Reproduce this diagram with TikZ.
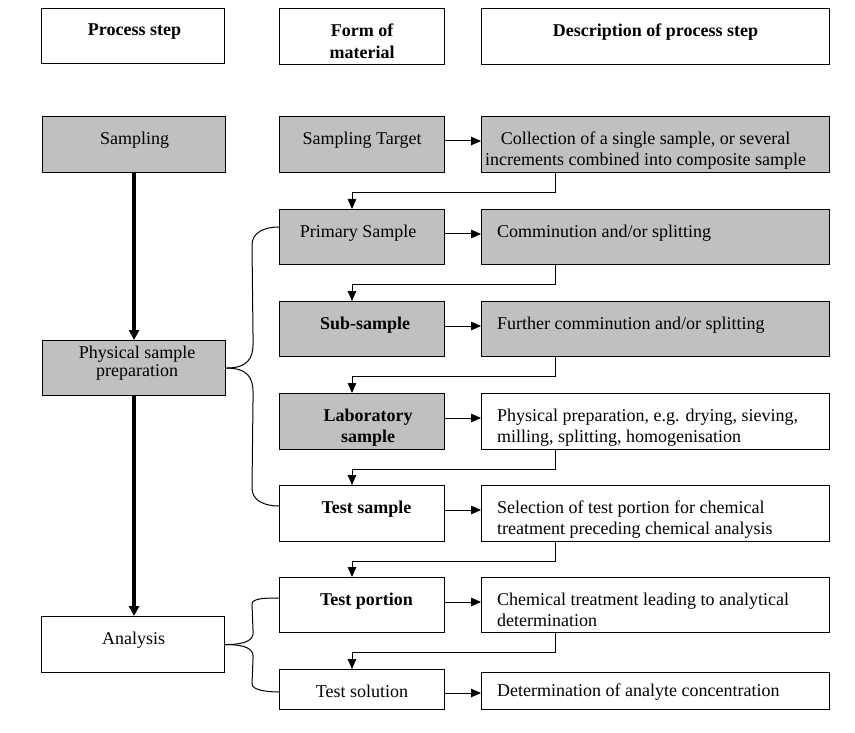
\documentclass[tikz,border=0pt]{standalone}
\usepackage{fontspec}
\setmainfont{Liberation Serif}
\usetikzlibrary{arrows.meta,calc}
\definecolor{boxgray}{HTML}{C0C0C0}
\begin{document}
\begin{tikzpicture}[x=1pt,y=-1pt,
  box/.style={draw,line width=1.1pt,inner sep=0pt,anchor=north west},
  lbl/.style={inner sep=0pt,anchor=north,align=center,font=\fontsize{18}{21.5}\selectfont},
  lbll/.style={inner sep=0pt,anchor=north west,align=left,font=\fontsize{18}{21.5}\selectfont},
  arr/.style={line width=1pt,-{Triangle[length=10pt,width=8.5pt]}},
  bigarr/.style={line width=3.2pt,-{Triangle[length=10pt,width=10pt]}},
  conn/.style={line width=1pt},
]
\useasboundingbox (0,0) rectangle (855,733);
\newcommand{\bx}[6]{\node[box,fill=#6,minimum width={#4pt-#2pt},minimum height={#5pt-#3pt}] (#1) at (#2,#3) {};}
% headers
\bx{h1}{41}{8}{224}{63}{white}
\bx{h2}{279}{8}{444}{64}{white}
\bx{h3}{481}{8}{829}{64}{white}
% left column
\bx{sam}{42}{116}{225}{172}{boxgray}
\bx{pp}{42}{340}{225}{395}{boxgray}
\bx{an}{41}{616}{224}{672}{white}
% middle column
\bx{st}{279}{116}{444}{172}{boxgray}
\bx{ps}{279}{209}{444}{264}{boxgray}
\bx{ss}{279}{301}{444}{356}{boxgray}
\bx{ls}{279}{393}{444}{449}{boxgray}
\bx{ts}{279}{485}{444}{541}{white}
\bx{tp}{279}{577}{444}{632}{white}
\bx{tsol}{279}{669}{444}{709}{white}
% right column
\bx{d1}{481}{116}{829}{172}{boxgray}
\bx{d2}{481}{209}{829}{264}{boxgray}
\bx{d3}{481}{301}{829}{356}{boxgray}
\bx{d4}{481}{393}{829}{449}{white}
\bx{d5}{481}{485}{829}{541}{white}
\bx{d6}{481}{577}{829}{632}{white}
\bx{d7}{481}{672}{829}{709}{white}
% labels
\node[lbl,font=\fontsize{18}{21.5}\selectfont\bfseries] (th1) at ([xshift=1.5pt,yshift=-16pt]h1.north) {Process step};
\node[lbl,font=\fontsize{18}{21.5}\selectfont\bfseries] (th2) at ([yshift=-16pt]h2.north) {Form of\\material};
\node[lbl,font=\fontsize{18}{21.5}\selectfont\bfseries] (th3) at ([yshift=-16pt]h3.north) {Description of process step};
\node[lbl] (tsam) at ([xshift=0.5pt,yshift=-15.5pt]sam.north) {Sampling};
\node[lbl,font=\fontsize{18}{18}\selectfont] (tpp) at ([xshift=3pt,yshift=-5.5pt]pp.north) {Physical sample\\preparation};
\node[lbl] (tan) at ([xshift=0.5pt,yshift=-15.5pt]an.north) {Analysis};
\node[lbl] (tst) at ([yshift=-15.5pt]st.north) {Sampling Target};
\node[lbl] (tps) at ([xshift=-4pt,yshift=-15.5pt]ps.north) {Primary Sample};
\node[lbl,font=\fontsize{18}{21.5}\selectfont\bfseries] (tss) at ([xshift=3pt,yshift=-15.5pt]ss.north) {Sub-sample};
\node[lbl,font=\fontsize{18}{21.5}\selectfont\bfseries] (tls) at ([xshift=6pt,yshift=-15.5pt]ls.north) {Laboratory\\sample};
\node[lbl,font=\fontsize{18}{21.5}\selectfont\bfseries] (tts) at ([xshift=4.5pt,yshift=-15.5pt]ts.north) {Test sample};
\node[lbl,font=\fontsize{18}{21.5}\selectfont\bfseries] (ttp) at ([xshift=4.5pt,yshift=-15.5pt]tp.north) {Test portion};
\node[lbl] (ttsol) at ([yshift=-15.5pt]tsol.north) {Test solution};
\node[lbl] (td1) at ([xshift=-10pt,yshift=-15.5pt]d1.north) {Collection of a single sample, or several\\increments combined into composite sample};
\node[lbll] (td2) at ([xshift=16pt,yshift=-15.5pt]d2.north west) {Comminution and/or splitting};
\node[lbll] (td3) at ([xshift=16pt,yshift=-15.5pt]d3.north west) {Further comminution and/or splitting};
\node[lbll] (td4) at ([xshift=16pt,yshift=-15.5pt]d4.north west) {Physical preparation, e.g. drying, sieving,\\milling, splitting, homogenisation};
\node[lbll] (td5) at ([xshift=16pt,yshift=-15.5pt]d5.north west) {Selection of test portion for chemical\\treatment preceding chemical analysis};
\node[lbll] (td6) at ([xshift=16pt,yshift=-15.5pt]d6.north west) {Chemical treatment leading to analytical\\determination};
\node[lbll] (td7) at ([xshift=16pt,yshift=-12pt]d7.north west) {Determination of analyte concentration};
% thick arrows
\draw[bigarr] (sam.south) -- (pp.north);
\draw[bigarr] (pp.south) -- (pp.south |- an.north);
% horizontal arrows
\foreach \m/\d in {st/d1,ps/d2,ss/d3,ls/d4,ts/d5,tp/d6}
  \draw[arr] ([yshift=-25pt]\m.north east) -- ([yshift=-25pt]\m.north east -| \d.west);
\draw[arr] ([yshift=-24pt]tsol.north east) -- ([yshift=-24pt]tsol.north east -| d7.west);
% elbow arrows
\foreach \d/\m in {d1/ps,d2/ss,d3/ls,d4/ts,d5/tp,d6/tsol}
  \draw[arr] ([xshift=74pt]\d.south west) -- ++(0,19) -| ([xshift=73pt]\m.north west);
% braces
\draw[conn] (pp.east) .. controls +(22,0) and +(0,15) .. ++(27,-25)
  -- ([xshift=-27pt,yshift=-36pt]ps.north west) .. controls +(0,-13) and +(-14,0) .. ([yshift=-18pt]ps.north west);
\draw[conn] (pp.east) .. controls +(22,0) and +(0,-15) .. ++(27,25)
  -- ([xshift=-27pt,yshift=-3pt]ts.north west) .. controls +(0,13) and +(-14,0) .. ([yshift=-21pt]ts.north west);
\draw[conn] (an.east) .. controls +(20,0) and +(0,8) .. ++(28,-12)
  -- ([xshift=-27pt,yshift=-27pt]tp.north west) .. controls +(0,-6) and +(-12,0) .. ([yshift=-21pt]tp.north west);
\draw[conn] (an.east) .. controls +(20,0) and +(0,-8) .. ++(28,12)
  -- ([xshift=-27pt,yshift=-15pt]tsol.north west) .. controls +(0,6) and +(-12,0) .. ([yshift=-23pt]tsol.north west);
\end{tikzpicture}
\end{document}
